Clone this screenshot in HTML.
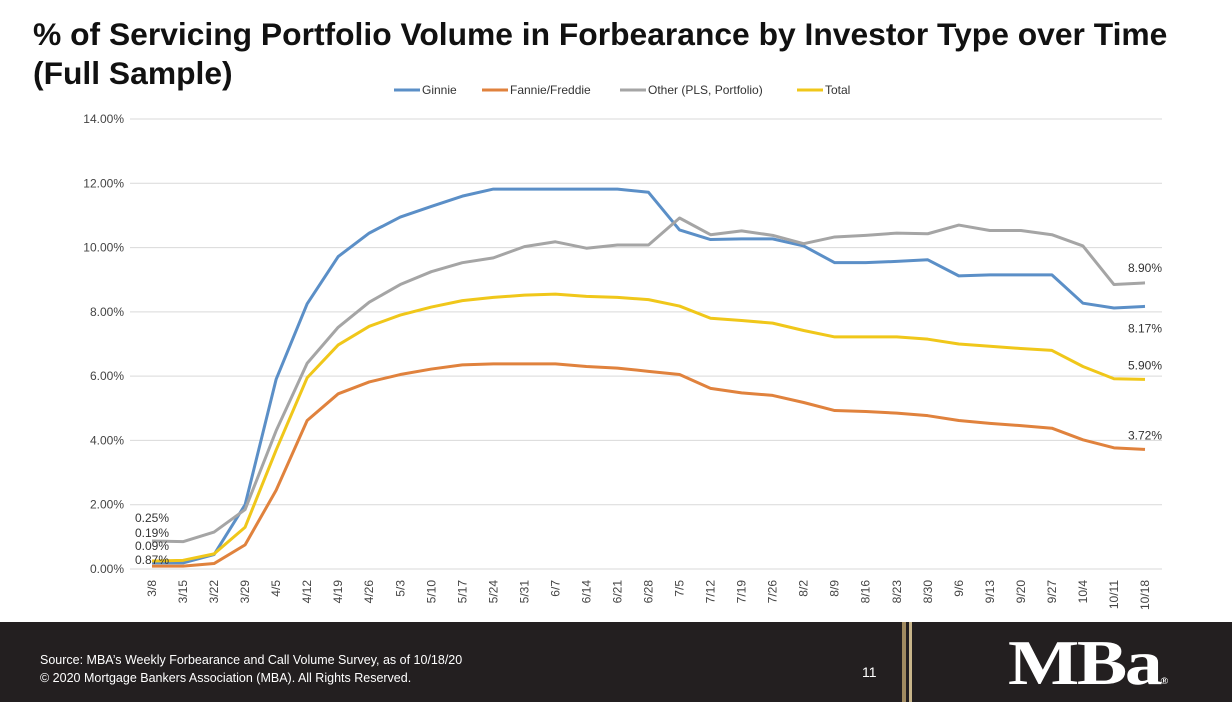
<!DOCTYPE html>
<html><head><meta charset="utf-8"><style>
body{margin:0;width:1232px;height:702px;background:#fff;position:relative;overflow:hidden;font-family:"Liberation Sans",Arial,sans-serif}
#title{position:absolute;left:33px;top:15px;font-size:31.8px;font-weight:bold;line-height:39px;color:#111}
#footer{position:absolute;left:0;top:622px;width:1232px;height:80px;background:#231f20}
svg{position:absolute;left:0;top:0}
</style></head><body>
<div id="title">% of Servicing Portfolio Volume in Forbearance by Investor Type over Time<br>(Full Sample)</div>
<div id="footer">
<div style="position:absolute;left:40px;top:29px;font-size:12.5px;color:#fff;line-height:18px">Source: MBA’s Weekly Forbearance and Call Volume Survey, as of 10/18/20<br>© 2020 Mortgage Bankers Association (MBA). All Rights Reserved.</div>
<div style="position:absolute;left:862px;top:42px;font-size:14px;color:#fff">11</div>
<div style="position:absolute;left:902px;top:0;width:4px;height:80px;background:#a08a60"></div>
<div style="position:absolute;left:909px;top:0;width:3px;height:80px;background:#c8b58a"></div>
<div style="position:absolute;left:1008px;top:4px;font-family:'Liberation Serif',serif;font-weight:bold;font-size:64px;color:#fff;letter-spacing:-2px;transform:scaleX(1.18);transform-origin:left top">MBa<span style="font-size:9px;letter-spacing:0">®</span></div>
</div>
<svg id="chart" width="1232" height="622"></svg>
<script>
const categories=["3/8","3/15","3/22","3/29","4/5","4/12","4/19","4/26","5/3","5/10","5/17","5/24","5/31","6/7","6/14","6/21","6/28","7/5","7/12","7/19","7/26","8/2","8/9","8/16","8/23","8/30","9/6","9/13","9/20","9/27","10/4","10/11","10/18"];
const ginnie=[0.19,0.19,0.45,2.0,5.9,8.25,9.72,10.45,10.95,11.28,11.6,11.82,11.82,11.82,11.82,11.82,11.72,10.55,10.25,10.27,10.27,10.05,9.53,9.53,9.57,9.62,9.12,9.15,9.15,9.15,8.27,8.12,8.17];
const fannie=[0.09,0.09,0.17,0.75,2.45,4.62,5.45,5.82,6.05,6.22,6.35,6.38,6.38,6.38,6.3,6.25,6.15,6.05,5.62,5.48,5.4,5.18,4.93,4.9,4.85,4.77,4.62,4.53,4.46,4.38,4.02,3.77,3.72];
const other=[0.87,0.85,1.15,1.85,4.3,6.4,7.52,8.3,8.85,9.25,9.53,9.68,10.03,10.18,9.98,10.08,10.08,10.92,10.4,10.52,10.38,10.12,10.33,10.38,10.45,10.43,10.7,10.53,10.53,10.4,10.05,8.85,8.9];
const total=[0.25,0.27,0.47,1.3,3.7,5.95,6.97,7.55,7.9,8.15,8.35,8.45,8.52,8.55,8.48,8.45,8.38,8.18,7.8,7.73,7.65,7.42,7.22,7.22,7.22,7.15,7.0,6.93,6.86,6.8,6.3,5.92,5.9];
const yTicks=[0,2,4,6,8,10,12,14];
const seriesNames=["Ginnie","Fannie/Freddie","Other (PLS, Portfolio)","Total"];
const svg=document.getElementById('chart');const NS="http://www.w3.org/2000/svg";
function el(t,a,txt){const e=document.createElementNS(NS,t);for(const k in a)e.setAttribute(k,a[k]);if(txt!=null)e.textContent=txt;svg.appendChild(e);return e;}
const x0=152,x1=1145,y0=569,yTop=119;
const X=i=>x0+i*(x1-x0)/(categories.length-1);
const Y=v=>y0-v*(y0-yTop)/14;
yTicks.forEach(t=>{
 const g=el('line',{x1:130,x2:1162,y1:Y(t),y2:Y(t),stroke:'#d9d9d9','stroke-width':1});
 
 const l=el('text',{x:124,y:Y(t)+4,'text-anchor':'end','font-size':12,fill:'#444'},t.toFixed(2)+'%');
 
});
categories.forEach((c,i)=>{
 const l=el('text',{transform:`translate(${X(i)+4},580) rotate(-90)`,'text-anchor':'end','font-size':12,fill:'#444'},c);
 
});
const data=[ginnie,fannie,other,total];const colors=['#5b8fc7','#e0823d','#a5a5a5','#f0c71a'];
const draw=[1,0,3,2];
draw.forEach(s=>{
 const p=el('polyline',{points:data[s].map((v,i)=>X(i)+','+Y(v)).join(' '),fill:'none',stroke:colors[s],'stroke-width':3,'stroke-linejoin':'round'});
 
});
const lx=[394,482,620,797];
seriesNames.forEach((n,s)=>{
 const ln=el('line',{x1:lx[s],x2:lx[s]+26,y1:90,y2:90,stroke:colors[s],'stroke-width':3});
 
 const t=el('text',{x:lx[s]+28,y:94,'font-size':12,fill:'#333'},n);
 
});
const startOrder=[total,ginnie,fannie,other];const sy=[522,537,550,564];
startOrder.forEach((arr,k)=>{
 const t=el('text',{x:135,y:sy[k],'font-size':12,fill:'#333'},arr[0].toFixed(2)+'%');
 
});
const n=categories.length-1;
[[other,-15],[ginnie,22],[total,-14],[fannie,-14]].forEach(([arr,dy])=>{
 const t=el('text',{x:1128,y:Y(arr[n])+dy+4,'font-size':12,fill:'#333'},arr[n].toFixed(2)+'%');
 
});
</script>
</body></html>
